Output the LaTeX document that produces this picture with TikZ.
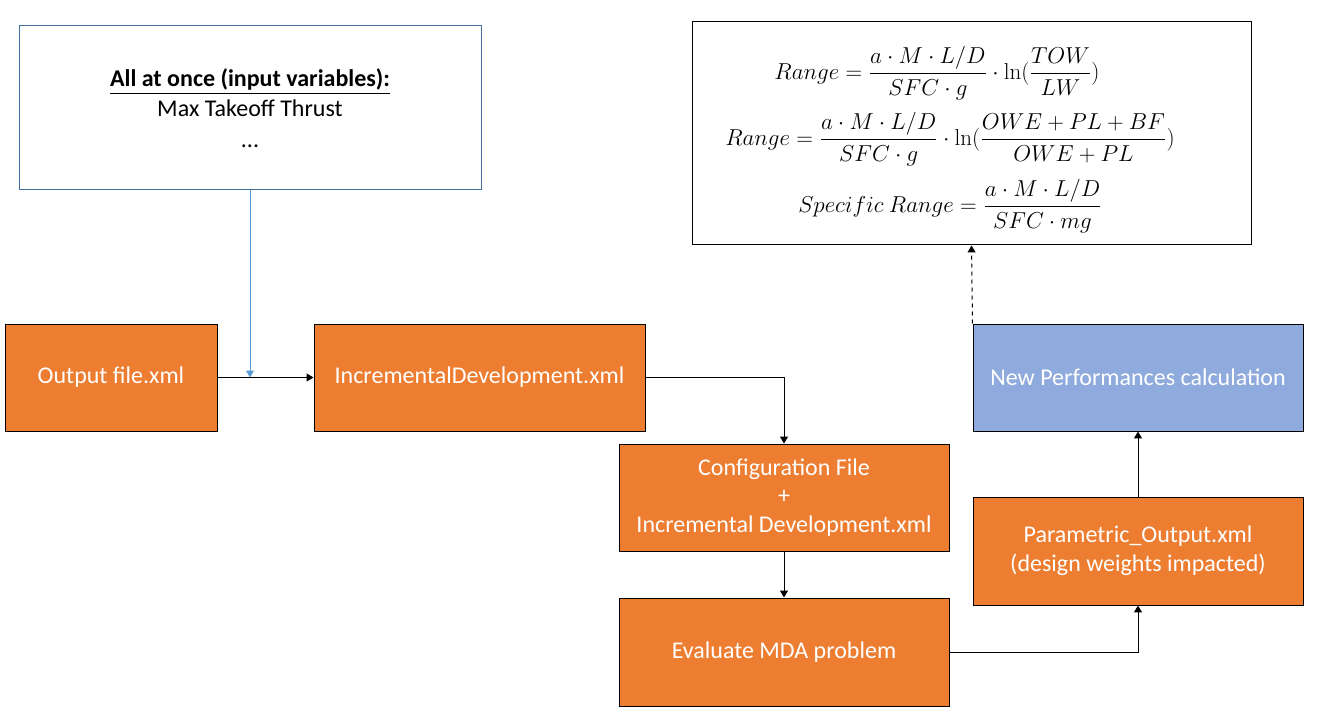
\documentclass[tikz,border=0pt]{standalone}
\usepackage{xcolor}
\usepackage{amsmath}
\usepackage[no-math]{fontspec}
\setmainfont{Carlito}
\usepackage{tikz}
\usetikzlibrary{shapes, arrows.meta, positioning}

\definecolor{boxOrange}{HTML}{ED7D31}
\definecolor{boxBlue}{HTML}{8FAADC}
\definecolor{lineBlue}{HTML}{5B9BD5}
\definecolor{frameBlue}{HTML}{41719C}

\begin{document}
\begin{tikzpicture}[x=0.75pt, y=-0.75pt, every node/.style={font=\fontsize{18}{21.6}\selectfont, align=center, inner sep=0pt},
    orangebox/.style={rectangle, draw=black, line width=0.75pt, fill=boxOrange, text=white, minimum width=247.5pt, minimum height=80.25pt},
    flow/.style={line width=0.75pt, arrows = -{Triangle[angle=60:6pt]}}]
    \useasboundingbox (0,0) rectangle (1329,713);

    \node (inVars) [rectangle, draw=frameBlue, line width=0.75pt, minimum width=346.5pt, minimum height=123pt] at (250,108) {\underline{\textbf{All at once (input variables):}}\\[1pt]Max Takeoff Thrust\\[2pt]...};
    \node (outFile) [orangebox, minimum width=159pt] at (111,377.5) {Output file.xml};
    \node (incDev) [orangebox, minimum width=248.25pt] at (479.5,377.5) {IncrementalDevelopment.xml};
    \node (confFile) [orangebox] at (784,497.5) {Configuration File\\+\\Incremental Development.xml};
    \node (evalMda) [orangebox, minimum height=81pt] at (784,652) {Evaluate MDA problem};
    \node (paramOut) [orangebox, minimum height=81pt] at (1138,551) {Parametric\_Output.xml\\(design weights impacted)};
    \node (newPerf) [orangebox, fill=boxBlue] at (1138,377.5) {New Performances calculation};
    \node (rangeBox) [rectangle, draw=black, line width=0.75pt, minimum width=419.25pt, minimum height=167.25pt] at (971.5,133.5) {};
    \node (eqRange) at (937,73) {$\displaystyle Range=\frac{a\cdot M\cdot L/D}{SFC\cdot g}\cdot\ln(\frac{TOW}{LW})$};
    \node (eqRangeW) at (950,139) {$\displaystyle Range=\frac{a\cdot M\cdot L/D}{SFC\cdot g}\cdot\ln(\frac{OWE+PL+BF}{OWE+PL})$};
    \node (eqSpec) at (950,206) {$\displaystyle Specific\ Range=\frac{a\cdot M\cdot L/D}{SFC\cdot mg}$};

    \draw [flow, draw=lineBlue, -{Triangle[angle=60:6pt, fill=lineBlue]}] (inVars.south) -- (inVars.south |- outFile.east);
    \draw [flow] (outFile) -- (incDev);
    \draw [flow] (incDev.east) -| (confFile.north);
    \draw [flow] (confFile) -- (evalMda);
    \draw [flow] (evalMda.east) -| (paramOut.south);
    \draw [flow] (paramOut) -- (newPerf);
    \draw [flow, dashed] (newPerf.north west) -- (rangeBox.south);
\end{tikzpicture}
\end{document}
